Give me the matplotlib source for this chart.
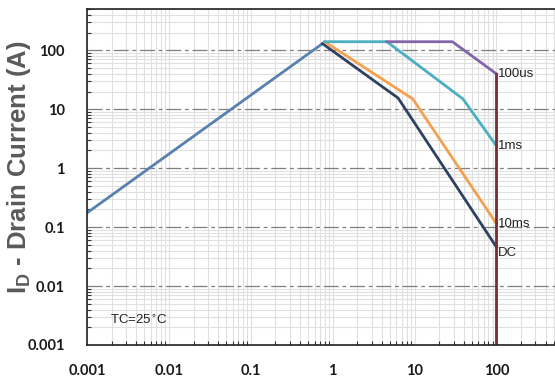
import matplotlib
matplotlib.use("Agg")
import matplotlib.pyplot as plt
from matplotlib.ticker import LogLocator, NullFormatter, FixedLocator, FixedFormatter

# Rds(on) limit line
rds_v = [0.001, 0.75]
rds_i = [0.175, 130]

# pulse / DC limit curves (VDS, ID)
dc_v = [0.75, 6.3, 100]
dc_i = [130, 15.5, 0.046]
ms10_v = [0.8, 9.5, 100]
ms10_i = [140, 15, 0.115]
ms1_v = [0.8, 4.6, 39, 100]
ms1_i = [140, 140, 15, 2.4]
us100_v = [4.6, 29, 100]
us100_i = [140, 140, 40]
vmax_v = [100, 100]
vmax_i = [40, 0.001]

curve_labels = ["100us", "1ms", "10ms", "DC"]
label_y = [40, 2.4, 0.115, 0.046]

xticks = [0.001, 0.01, 0.1, 1, 10, 100]
xtick_labels = ["0.001", "0.01", "0.1", "1", "10", "100"]
yticks = [0.001, 0.01, 0.1, 1, 10, 100]
ytick_labels = ["0.001", "0.01", "0.1", "1", "10", "100"]

fig = plt.figure(figsize=(5.55, 3.81), dpi=100)
ax = fig.add_axes([0.157, 0.0945, 0.843, 0.8815])
ax.set_xscale("log")
ax.set_yscale("log")
ax.set_xlim(0.001, 520)
ax.set_ylim(0.001, 500)

# grid
ax.grid(True, which="minor", axis="both", color="#e0e0e0", lw=0.8)
ax.grid(True, which="major", axis="x", color="#e0e0e0", lw=0.8)
ax.grid(True, which="major", axis="y", color="#7f7f7f", lw=0.9,
        linestyle=(0, (12, 3, 3, 3)))
ax.set_axisbelow(True)

ax.plot(rds_v, rds_i, color="#5881b0", lw=2)
ax.plot(dc_v, dc_i, color="#2e415e", lw=2)
ax.plot(ms10_v, ms10_i, color="#f4a04f", lw=2)
ax.plot(ms1_v, ms1_i, color="#4aafc0", lw=2)
ax.plot(us100_v, us100_i, color="#8366a6", lw=2)
ax.plot(vmax_v, vmax_i, color="#7d2a33", lw=2)

for lab, yv in zip(curve_labels, label_y):
    va = "top" if lab == "DC" else "center"
    ax.text(104, yv, lab, fontsize=9.5, family="Liberation Sans",
            color="#222222", ha="left", va=va)

ax.text(0.0019, 0.0026, "TC=25$^{\\circ}$C", fontsize=9.5,
        family="Liberation Sans", color="#222222", ha="left", va="center")

ax.xaxis.set_major_locator(FixedLocator(xticks))
ax.xaxis.set_major_formatter(FixedFormatter(xtick_labels))
ax.yaxis.set_major_locator(FixedLocator(yticks))
ax.yaxis.set_major_formatter(FixedFormatter(ytick_labels))
ax.xaxis.set_minor_locator(LogLocator(base=10, subs=range(2, 10), numticks=20))
ax.yaxis.set_minor_locator(LogLocator(base=10, subs=range(2, 10), numticks=20))
ax.xaxis.set_minor_formatter(NullFormatter())
ax.yaxis.set_minor_formatter(NullFormatter())

ax.tick_params(axis="both", which="both", direction="in", color="#333333")
ax.tick_params(axis="both", which="major", length=0)
ax.tick_params(axis="both", which="minor", length=3, width=0.8)
ax.tick_params(axis="x", which="major", pad=14)
ax.tick_params(axis="y", which="major", pad=16)
for t in ax.get_xticklabels() + ax.get_yticklabels():
    t.set_family("Lato")
    t.set_fontweight("bold")
    t.set_fontsize(10.5)
    t.set_color("#1a1a1a")

for s in ["left", "bottom", "top"]:
    ax.spines[s].set_color("#222222")
    ax.spines[s].set_linewidth(1.2)
ax.spines["right"].set_visible(False)

ax.set_ylabel("I$_\\mathregular{D}$ - Drain Current (A)", fontsize=18.5,
              family="Liberation Sans", fontweight="bold", color="#5a5a5a")
ax.yaxis.set_label_coords(-0.115, 0.53)

fig.savefig("out.png", dpi=100)
